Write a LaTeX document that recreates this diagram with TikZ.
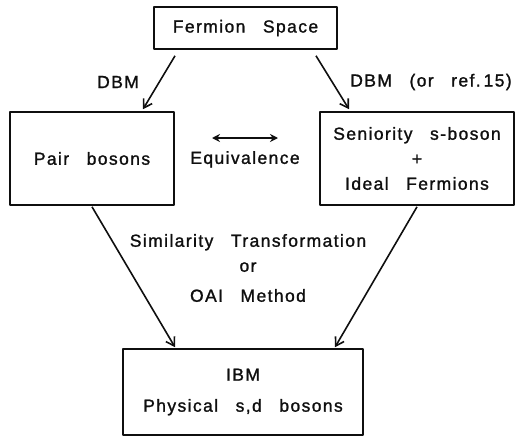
\documentclass[tikz,border=0pt]{standalone}
\usepackage{fontspec}
\newfontfamily\leroy{Liberation Sans}[LetterSpace=8,WordSpace=2.8,FakeBold=1.3]
\usetikzlibrary{arrows.meta,positioning,calc}
\definecolor{bmink}{RGB}{15,15,15}
\tikzset{
  bmbox/.style={
    draw=bmink, line width=1.6pt, align=center, inner sep=2pt,
    font=\leroy\fontsize{17.5}{25}\selectfont, text=bmink
  },
  lbl/.style={font=\leroy\fontsize{17.5}{25}\selectfont, text=bmink, align=center, inner sep=0pt},
  arr/.style={-{Straight Barb[length=8pt,width=10pt,line width=1.6pt]}, draw=bmink, line width=1.6pt},
  eqarr/.style={{Stealth[length=8pt,width=8pt]}-{Stealth[length=8pt,width=8pt]}, draw=bmink, line width=2pt},
  every picture/.append style={line join=round}
}
\begin{document}
\begin{tikzpicture}[x=1pt,y=-1pt]
  \useasboundingbox (0,0) rectangle (516,444);
  % boxes
  \node[bmbox, minimum width=183pt, minimum height=42pt] (fs) at (245.5,28) {Fermion Space};
  \node[bmbox, minimum width=164pt, minimum height=93pt] (pb) at (92,158.5) {Pair bosons};
  \node[bmbox, minimum width=194pt, minimum height=93pt] (sn) at (417,158.5)
    {Seniority s-boson\\+\\Ideal Fermions};
  \node[bmbox, minimum width=240pt, minimum height=86pt] (ibm) at (243,392)
    {IBM\\[6pt]Physical s,d bosons};
  % arrows
  \draw[arr] ([xshift=-70.5pt,yshift=-6pt]fs.south) -- ([xshift=51pt,yshift=2pt]pb.north);
  \draw[arr] ([xshift=70.5pt,yshift=-6pt]fs.south) -- ([xshift=-68pt,yshift=2pt]sn.north);
  \draw[arr] ([yshift=-1pt]pb.south) -- ([xshift=-68pt,yshift=1pt]ibm.north);
  \draw[arr] ([yshift=-1pt]sn.south) -- ([xshift=92pt,yshift=1pt]ibm.north);
  % labels
  \node[lbl] (dbml) at (118,82) {DBM};
  \node[lbl] (dbmr) at (431,82) {DBM (or ref.\,15)};
  \coordinate (eqa) at (212,138);
  \coordinate (eqb) at (278,138);
  \draw[eqarr] (eqa) -- (eqb);
  \node[lbl, below=13pt of $(eqa)!0.5!(eqb)$] (eq) {Equivalence};
  \node[lbl] (sim) at (248,268) {Similarity Transformation\\or\\[5pt]OAI Method};
\end{tikzpicture}
\end{document}
